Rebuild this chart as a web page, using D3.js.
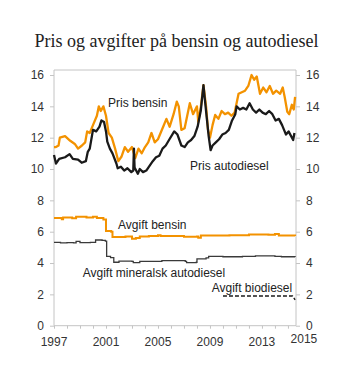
<!DOCTYPE html>
<html lang="no">
<head>
<meta charset="utf-8">
<title>Pris og avgifter på bensin og autodiesel</title>
<script src="https://cdn.jsdelivr.net/npm/d3@7"></script>
<style>
  body { margin: 0; background: #fff; }
  svg text { font-family: "Liberation Sans", Arial, sans-serif; }
</style>
</head>
<body>
<script>
// chart data: [year, kr per litre]
var prisBensin = [
  [1997.0, 11.4], [1997.15, 11.4], [1997.35, 11.5], [1997.45, 12.0], [1997.85, 12.1],
  [1998.25, 11.8], [1998.6, 11.6], [1998.85, 11.3], [1999.15, 11.5], [1999.4, 11.7],
  [1999.55, 12.4], [1999.75, 12.3], [2000.0, 12.8], [2000.3, 13.4], [2000.45, 14.0],
  [2000.6, 13.7], [2000.8, 14.0], [2001.0, 13.4], [2001.2, 12.3], [2001.45, 12.0],
  [2001.7, 11.3], [2001.95, 10.5], [2002.2, 10.8], [2002.45, 11.4], [2002.7, 11.1],
  [2003.0, 11.4], [2003.25, 10.7], [2003.5, 11.3], [2003.75, 11.0], [2004.0, 11.4],
  [2004.25, 11.7], [2004.5, 12.3], [2004.75, 11.7], [2005.0, 11.9], [2005.4, 12.7],
  [2005.65, 13.2], [2005.9, 12.7], [2006.2, 13.5], [2006.45, 14.3], [2006.6, 14.0],
  [2006.8, 12.5], [2007.05, 12.6], [2007.45, 14.2], [2007.7, 13.5], [2008.0, 14.0],
  [2008.1, 13.0], [2008.3, 14.0], [2008.5, 15.35], [2008.7, 14.0], [2008.85, 12.5],
  [2009.0, 12.0], [2009.2, 12.8], [2009.4, 13.45], [2009.65, 13.2], [2009.9, 13.7],
  [2010.15, 13.5], [2010.4, 13.6], [2010.65, 13.4], [2010.9, 13.6], [2011.2, 14.8],
  [2011.45, 14.9], [2011.7, 15.0], [2011.95, 15.3], [2012.2, 16.0], [2012.4, 15.7],
  [2012.6, 15.9], [2012.85, 14.8], [2013.1, 15.2], [2013.35, 14.9], [2013.6, 15.3],
  [2013.85, 14.8], [2014.1, 15.0], [2014.4, 14.8], [2014.6, 15.2], [2014.75, 14.6],
  [2014.95, 13.65], [2015.1, 13.5], [2015.3, 14.1], [2015.45, 13.8], [2015.55, 14.6]
];

var prisDiesel = [
  [1997.0, 10.9], [1997.15, 10.35], [1997.4, 10.65], [1997.85, 10.75], [1998.2, 10.95],
  [1998.45, 10.65], [1998.85, 10.6], [1999.13, 10.4], [1999.45, 10.5], [1999.6, 11.1],
  [1999.75, 11.3], [2000.0, 12.5], [2000.25, 12.4], [2000.5, 12.7], [2000.65, 13.1],
  [2000.85, 13.0], [2001.0, 12.4], [2001.1, 11.75], [2001.3, 11.3], [2001.5, 11.0],
  [2001.8, 10.35], [2001.9, 10.05], [2002.15, 10.15], [2002.4, 9.9], [2002.65, 10.05],
  [2002.95, 9.8], [2003.1, 9.9], [2003.15, 11.3], [2003.2, 10.1], [2003.45, 9.7],
  [2003.6, 10.0], [2003.85, 9.8], [2004.1, 9.9], [2004.35, 10.2], [2004.6, 10.5],
  [2004.85, 10.75], [2005.1, 10.85], [2005.35, 11.3], [2005.6, 11.5], [2005.85, 11.85],
  [2006.25, 12.4], [2006.5, 12.2], [2006.8, 11.5], [2007.05, 11.4], [2007.3, 11.7],
  [2007.55, 11.85], [2007.8, 12.1], [2008.05, 12.7], [2008.3, 13.75], [2008.5, 15.35],
  [2008.6, 14.5], [2008.75, 13.3], [2008.9, 12.1], [2009.05, 11.2], [2009.2, 11.5],
  [2009.45, 11.7], [2009.7, 11.9], [2009.95, 12.2], [2010.2, 12.3], [2010.45, 12.5],
  [2010.7, 13.1], [2010.95, 13.5], [2011.05, 14.0], [2011.3, 13.8], [2011.55, 13.9],
  [2011.8, 13.8], [2012.05, 14.2], [2012.3, 13.8], [2012.55, 13.6], [2012.8, 13.8],
  [2013.05, 13.6], [2013.3, 13.5], [2013.55, 13.7], [2013.8, 13.5], [2014.05, 13.1],
  [2014.3, 13.2], [2014.55, 12.8], [2014.7, 12.5], [2014.85, 12.2], [2015.05, 12.4],
  [2015.4, 11.85], [2015.5, 12.3]
];

var avgiftBensin = [
  [1997.0, 6.87], [1997.6, 6.8], [1997.7, 6.9], [1998.4, 6.85], [1998.7, 6.95],
  [1999.5, 6.9], [2000.0, 6.95], [2000.3, 6.87], [2000.8, 6.78], [2001.0, 6.05],
  [2001.4, 6.0], [2001.5, 5.66], [2002.5, 5.7], [2003.0, 5.55], [2003.3, 5.6],
  [2003.6, 5.7], [2004.3, 5.72], [2005.0, 5.78], [2005.2, 5.72], [2006.5, 5.72],
  [2007.0, 5.68], [2008.0, 5.7], [2008.1, 5.62], [2008.3, 5.75], [2009.5, 5.75],
  [2010.5, 5.78], [2012.0, 5.82], [2013.5, 5.8], [2014.0, 5.85], [2014.3, 5.75],
  [2015.55, 5.73]
];

var avgiftDiesel = [
  [1997.0, 5.32], [1997.5, 5.28], [1998.0, 5.3], [1998.5, 5.28], [1998.7, 5.38],
  [1999.0, 5.3], [1999.8, 5.32], [2000.2, 5.47], [2000.7, 5.45], [2000.95, 5.4],
  [2001.05, 4.42], [2001.35, 4.35], [2001.6, 4.05], [2002.0, 4.12], [2003.0, 4.1],
  [2003.1, 4.02], [2003.4, 4.02], [2003.6, 4.1], [2005.0, 4.1], [2005.3, 4.15],
  [2007.1, 4.1], [2007.2, 4.03], [2007.95, 4.05], [2008.0, 4.27], [2008.7, 4.33],
  [2008.9, 4.42], [2010.0, 4.4], [2011.5, 4.42], [2012.5, 4.45], [2014.0, 4.43],
  [2014.5, 4.4], [2015.55, 4.38]
];

var avgiftBio = [[2010.0, 1.9], [2015.35, 1.9], [2015.55, 1.65]];

var yTicks = [0, 2, 4, 6, 8, 10, 12, 14, 16];
var xLabels = [1997, 2001, 2005, 2009, 2013];

var w = 353, h = 383;
var orange = "#f39200";

var svg = d3.select("body").append("svg")
  .attr("width", w)
  .attr("height", h);

var x = d3.scaleLinear().domain([1997, 2015.62]).range([54, 296]);
var y = d3.scaleLinear().domain([0, 16]).range([325.7, 75]);

// title
svg.append("text")
  .attr("x", 176.5)
  .attr("y", 47)
  .attr("text-anchor", "middle")
  .style("font-family", "'Liberation Serif', 'Times New Roman', serif")
  .style("font-size", "18px")
  .attr("fill", "#222")
  .text("Pris og avgifter på bensin og autodiesel");

// frame
var axisCol = "#c4c4c4";
svg.append("line").attr("x1", 54).attr("x2", 296).attr("y1", 70).attr("y2", 70)
  .attr("stroke", axisCol);

var left = svg.append("g").attr("transform", "translate(54,0)")
  .call(d3.axisLeft(y).tickValues(yTicks).tickSize(4).tickPadding(6).tickFormat(d3.format("d")));
var right = svg.append("g").attr("transform", "translate(296,0)")
  .call(d3.axisRight(y).tickValues(yTicks).tickSize(4).tickPadding(6).tickFormat(d3.format("d")));
[left, right].forEach(function(g) {
  g.select(".domain").attr("d", "M0,70V" + y(0)).attr("stroke", axisCol);
  g.selectAll(".tick line").attr("stroke", axisCol);
  g.selectAll(".tick text").attr("fill", "#333").style("font-size", "12px")
    .style("font-family", "'Liberation Sans', Arial, sans-serif");
});

var years = d3.range(1997, 2016);
var bottom = svg.append("g").attr("transform", "translate(0," + y(0) + ")")
  .call(d3.axisBottom(x).tickValues(years).tickSize(3).tickFormat(""));
bottom.select(".domain").attr("d", "M54,0H296").attr("stroke", axisCol);
bottom.selectAll(".tick line").attr("stroke", axisCol);

svg.selectAll(".xlab")
  .data(xLabels)
  .enter()
  .append("text")
  .attr("class", "xlab")
  .attr("x", function(d) { return x(d); })
  .attr("y", 346)
  .attr("text-anchor", "middle")
  .attr("fill", "#333")
  .style("font-size", "12px")
  .text(function(d) { return d; });

svg.append("text")
  .attr("x", x(2015) + 16)
  .attr("y", 343)
  .attr("text-anchor", "middle")
  .attr("fill", "#333")
  .style("font-size", "12px")
  .text("2015");

// lines
var line = d3.line()
  .x(function(d) { return x(d[0]); })
  .y(function(d) { return y(d[1]); });
var stepLine = d3.line()
  .curve(d3.curveStepAfter)
  .x(function(d) { return x(d[0]); })
  .y(function(d) { return y(d[1]); });

svg.append("path").datum(avgiftDiesel)
  .attr("d", stepLine).attr("fill", "none")
  .attr("stroke", "#3a3a3a").attr("stroke-width", 1.3);
svg.append("path").datum(avgiftBensin)
  .attr("d", stepLine).attr("fill", "none")
  .attr("stroke", orange).attr("stroke-width", 2);
svg.append("path").datum(avgiftBio)
  .attr("d", line).attr("fill", "none")
  .attr("stroke", "#1a1a1a").attr("stroke-width", 1.4)
  .attr("stroke-dasharray", "4,2");
svg.append("path").datum(prisBensin)
  .attr("d", line).attr("fill", "none")
  .attr("stroke", orange).attr("stroke-width", 2.3)
  .attr("stroke-linejoin", "round");
svg.append("path").datum(prisDiesel)
  .attr("d", line).attr("fill", "none")
  .attr("stroke", "#1a1a1a").attr("stroke-width", 2.3)
  .attr("stroke-linejoin", "round");

// series labels
var labels = [
  ["Pris bensin", 108, 106.7],
  ["Pris autodiesel", 190, 170],
  ["Avgift bensin", 118, 229],
  ["Avgift mineralsk autodiesel", 82.7, 276.7],
  ["Avgift biodiesel", 211.7, 291.7]
];
svg.selectAll(".lab")
  .data(labels)
  .enter()
  .append("text")
  .attr("class", "lab")
  .attr("x", function(d) { return d[1]; })
  .attr("y", function(d) { return d[2]; })
  .attr("fill", "#222")
  .style("font-size", "12px")
  .text(function(d) { return d[0]; });
</script>
</body>
</html>
